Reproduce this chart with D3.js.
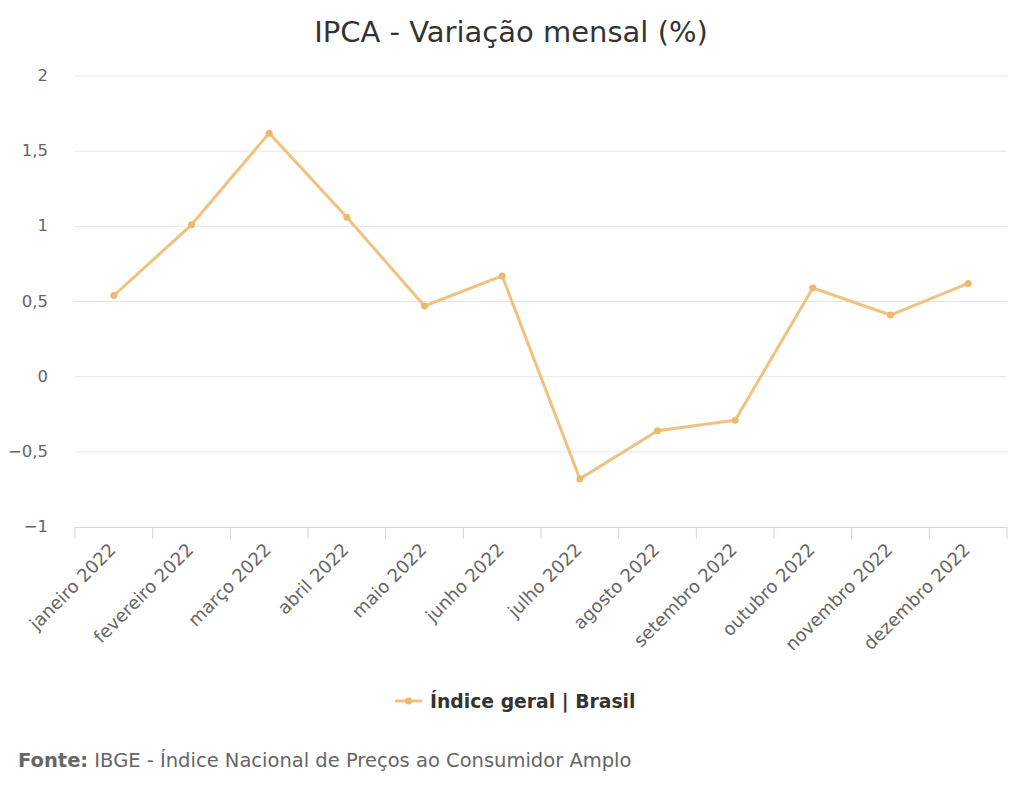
<!DOCTYPE html>
<html><head><meta charset="utf-8">
<script src="https://cdn.jsdelivr.net/npm/d3@7"></script>
<style>
body{margin:0;background:#fff;}
text{font-family:"DejaVu Sans",sans-serif;}
</style></head>
<body><svg id="c" width="1024" height="798"></svg>
<script>
const categories = ["janeiro 2022","fevereiro 2022","março 2022","abril 2022","maio 2022","junho 2022","julho 2022","agosto 2022","setembro 2022","outubro 2022","novembro 2022","dezembro 2022"];
const values = [0.54,1.01,1.62,1.06,0.47,0.67,-0.68,-0.36,-0.29,0.59,0.41,0.62];
const yTicks = [-1,-0.5,0,0.5,1,1.5,2];
const title = "IPCA - Variação mensal (%)";
const seriesName = "Índice geral | Brasil";

const svg = d3.select("#c");
const L=75,R=1007,T=76,B=527;
const x = d3.scaleBand().domain(categories).range([L,R]);
const y = d3.scaleLinear().domain([-1,2]).range([B,T]);
const fmt = v => String(v).replace(".",",").replace("-","−");

svg.append("text").attr("x",511).attr("y",42).attr("text-anchor","middle")
  .attr("font-size",29).attr("fill","#333").text(title);

// grid
svg.append("g").selectAll("line").data(yTicks.filter(d=>d!==-1)).join("line")
  .attr("x1",L).attr("x2",R).attr("y1",d=>y(d)).attr("y2",d=>y(d))
  .attr("stroke","#e6e6e6").attr("stroke-width",1);
svg.append("g").selectAll("text").data(yTicks).join("text")
  .attr("x",48).attr("y",d=>y(d)+5).attr("text-anchor","end")
  .attr("font-size",16.5).attr("fill","#666").text(fmt);

// x axis
const xa = svg.append("g");
xa.append("line").attr("x1",L).attr("x2",R).attr("y1",B+0.5).attr("y2",B+0.5).attr("stroke","#ccd6eb");
const edges = categories.map(c=>x(c)).concat([R]);
xa.selectAll("line.t").data(edges).join("line").attr("class","t")
  .attr("x1",d=>d).attr("x2",d=>d).attr("y1",B).attr("y2",B+12).attr("stroke","#ccd6eb");
xa.selectAll("text").data(categories).join("text")
  .attr("transform",d=>`translate(${x(d)+x.bandwidth()/2+3},${B+24}) rotate(-45)`)
  .attr("text-anchor","end").attr("font-size",18).attr("fill","#666").text(d=>d);

// line
const color="#f1c27f";
const line = d3.line().x((d,i)=>x(categories[i])+x.bandwidth()/2).y(d=>y(d));
svg.append("path").datum(values).attr("d",line).attr("fill","none")
  .attr("stroke",color).attr("stroke-width",3).attr("stroke-linejoin","round");
svg.append("g").selectAll("circle").data(values).join("circle")
  .attr("cx",(d,i)=>x(categories[i])+x.bandwidth()/2).attr("cy",d=>y(d))
  .attr("r",3.5).attr("fill","#edb96e");

// legend
svg.append("line").attr("x1",395).attr("x2",422).attr("y1",701).attr("y2",701)
  .attr("stroke",color).attr("stroke-width",3);
svg.append("circle").attr("cx",408.5).attr("cy",701).attr("r",3.5).attr("fill","#edb96e");
svg.append("text").attr("x",430).attr("y",708).attr("font-size",18.8).attr("font-weight","bold")
  .attr("fill","#333").text(seriesName);

// source
const s = svg.append("text").attr("x",18).attr("y",767).attr("font-size",19.5).attr("fill","#666");
s.append("tspan").attr("font-weight","bold").text("Fonte:");
s.append("tspan").text(" IBGE - Índice Nacional de Preços ao Consumidor Amplo");
</script></body></html>
